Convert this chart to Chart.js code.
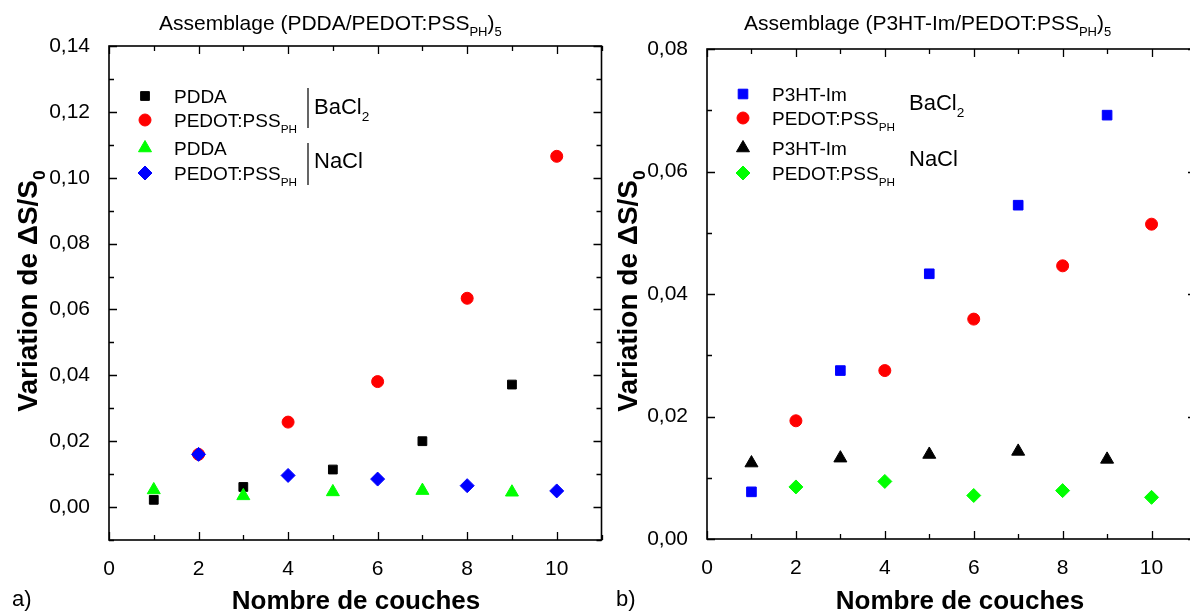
<!DOCTYPE html>
<html>
<head>
<meta charset="utf-8">
<script src="https://cdn.jsdelivr.net/npm/chart.js@4.4.0/dist/chart.umd.min.js"></script>
<style>
  html, body { margin: 0; padding: 0; background: #fff; overflow: hidden; width: 1190px; height: 612px; }
  #wrapA { position: absolute; left: 0; top: 0; width: 610px; height: 612px; }
  #wrapB { position: absolute; left: 610px; top: 0; width: 600px; height: 612px; }
</style>
</head>
<body>
<div id="wrapA"><canvas id="chartA" width="610" height="612"></canvas></div>
<div id="wrapB"><canvas id="chartB" width="600" height="612"></canvas></div>
<script>
// number of layers (odd = polycation, even = PEDOT:PSS)
let layersOdd = [1, 3, 5, 7, 9];
let layersEven = [2, 4, 6, 8, 10];
let xTicks = [0, 2, 4, 6, 8, 10];

// a) PDDA/PEDOT:PSS_PH
let pddaBaCl2 = [0.0022, 0.0061, 0.0114, 0.0200, 0.0372];
let pedotBaCl2A = [0.0160, 0.0258, 0.0381, 0.0634, 0.1065];
let pddaNaCl = [0.0052, 0.0034, 0.0046, 0.0050, 0.0045];
let pedotNaClA = [0.0160, 0.0096, 0.0085, 0.0065, 0.0049];
let yTicksA = [0, 0.02, 0.04, 0.06, 0.08, 0.10, 0.12, 0.14];

// b) P3HT-Im/PEDOT:PSS_PH
let p3htBaCl2 = [0.0077, 0.0275, 0.0433, 0.0545, 0.0692];
let pedotBaCl2B = [0.0193, 0.0275, 0.0359, 0.0446, 0.0514];
let p3htNaCl = [0.0124, 0.0132, 0.0138, 0.0143, 0.0130];
let pedotNaClB = [0.0085, 0.0094, 0.0071, 0.0079, 0.0068];
let yTicksB = [0, 0.02, 0.04, 0.06, 0.08];

const FONT = '"Liberation Sans", Arial, sans-serif';

function pts(xs, ys) {
    return xs.map((x, i) => ({ x: x, y: ys[i] }));
}

// text with subscripts: parts = [[text, isSub], ...]
function richText(ctx, parts, x, y, size, bold, align) {
    let font = s => (bold ? 'bold ' : '') + s + 'px ' + FONT;
    let w = 0;
    parts.forEach(p => {
        ctx.font = font(p[1] ? size * 0.62 : size);
        w += ctx.measureText(p[0]).width;
    });
    let cx = align === 'center' ? x - w / 2 : x;
    ctx.textAlign = 'left';
    ctx.textBaseline = 'alphabetic';
    parts.forEach(p => {
        ctx.font = font(p[1] ? size * 0.62 : size);
        ctx.fillText(p[0], cx, y + (p[1] ? size * 0.3 : 0));
        cx += ctx.measureText(p[0]).width;
    });
}

// box around plot + inward ticks on all four sides
let framePlugin = {
    id: 'frame',
    afterDraw(chart) {
        let ctx = chart.ctx, a = chart.chartArea;
        let sx = chart.scales.x, sy = chart.scales.y;
        ctx.save();
        ctx.strokeStyle = '#000';
        ctx.lineWidth = 1.6;
        ctx.strokeRect(a.left, a.top, a.right - a.left, a.bottom - a.top);
        ctx.lineWidth = 1.3;
        ctx.beginPath();
        let nx = Math.round(sx.max - sx.min);
        for (let i = 0; i <= nx; i++) {
            let v = sx.min + i;
            let len = v % 2 === 0 ? 8 : 5;
            let px = Math.round(sx.getPixelForValue(v)) + 0.5;
            ctx.moveTo(px, a.bottom); ctx.lineTo(px, a.bottom - len);
            ctx.moveTo(px, a.top); ctx.lineTo(px, a.top + len);
        }
        let ny = Math.round((sy.max - sy.min) / 0.01);
        for (let i = 0; i <= ny; i++) {
            let v = sy.min + i * 0.01;
            let major = Math.round(v * 100) % 2 === 0;
            let len = major ? 8 : 5;
            let py = Math.round(sy.getPixelForValue(v)) + 0.5;
            ctx.moveTo(a.left, py); ctx.lineTo(a.left + len, py);
            ctx.moveTo(a.right, py); ctx.lineTo(a.right - len, py);
        }
        ctx.stroke();
        ctx.restore();
    }
};

// titles, axis labels, legend
function textPlugin(cfg) {
    return {
        id: 'panelText',
        afterDraw(chart) {
            let ctx = chart.ctx;
            ctx.save();
            ctx.fillStyle = '#000';
            richText(ctx, cfg.title, cfg.titleX, 30, 21, false, 'left');
            richText(ctx, [['Nombre de couches', false]], cfg.xTitleX, 609, 26, true, 'center');
            richText(ctx, [[cfg.letter, false]], cfg.letterX, 606, 22, false, 'left');

            ctx.save();
            ctx.translate(cfg.yTitleX, 291);
            ctx.rotate(-Math.PI / 2);
            richText(ctx, [['Variation de \u0394S/S', false], ['0', true]], 0, 0, 28, true, 'center');
            ctx.restore();

            // legend markers come from the datasets themselves
            chart.data.datasets.forEach((ds, i) => {
                let y = cfg.legendY[i];
                ctx.fillStyle = ds.backgroundColor;
                ctx.strokeStyle = ds.borderColor;
                ctx.lineWidth = 1;
                Chart.helpers.drawPoint(ctx, { pointStyle: ds.pointStyle, radius: ds.pointRadius, rotation: 0, borderWidth: 1 }, cfg.legendX, y);
                ctx.fillStyle = '#000';
                richText(ctx, cfg.legendText[i], cfg.legendX + 29, y + 7, 19, false, 'left');
            });
            richText(ctx, [['BaCl', false], ['2', true]], cfg.saltX, cfg.saltY[0], 22, false, 'left');
            richText(ctx, [['NaCl', false]], cfg.saltX, cfg.saltY[1], 22, false, 'left');
            if (cfg.bars) {
                ctx.strokeStyle = '#000';
                ctx.lineWidth = 1.2;
                ctx.beginPath();
                cfg.bars.forEach(b => { ctx.moveTo(b[0], b[1]); ctx.lineTo(b[0], b[2]); });
                ctx.stroke();
            }
            ctx.restore();
        }
    };
}

function makeScatter(id, datasets, yMin, yMax, yTicks, layout, text) {
    let ctx = document.getElementById(id).getContext('2d');
    return new Chart(ctx, {
        type: 'scatter',
        data: { datasets: datasets },
        options: {
            responsive: false,
            animation: false,
            devicePixelRatio: 1,
            layout: { padding: { top: layout.top, right: layout.right, left: 0, bottom: 0 } },
            plugins: { legend: { display: false }, tooltip: { enabled: false } },
            scales: {
                x: {
                    type: 'linear', min: 0, max: 11,
                    afterBuildTicks: s => { s.ticks = xTicks.map(v => ({ value: v })); },
                    afterFit: s => { s.height = layout.xh; },
                    grid: { display: false },
                    border: { display: false },
                    ticks: { color: '#000', padding: 9, font: { family: FONT, size: 21 } }
                },
                y: {
                    type: 'linear', min: yMin, max: yMax,
                    afterBuildTicks: s => { s.ticks = yTicks.map(v => ({ value: v })); },
                    afterFit: s => { s.width = layout.yw; },
                    grid: { display: false },
                    border: { display: false },
                    ticks: {
                        color: '#000', padding: 11, font: { family: FONT, size: 21 },
                        callback: v => v.toFixed(2).replace('.', ',')
                    }
                }
            }
        },
        plugins: [framePlugin, textPlugin(text)]
    });
}

let pss = [['PEDOT:PSS', false], ['PH', true]];

// order: later series drawn on top (lower order value = on top)
makeScatter('chartA', [
    { label: 'PDDA BaCl2', data: pts(layersOdd, pddaBaCl2), order: 4, pointStyle: 'rect', pointRadius: 6.2, backgroundColor: '#000000', borderColor: '#000000', borderWidth: 1 },
    { label: 'PEDOT:PSS BaCl2', data: pts(layersEven, pedotBaCl2A), order: 3, pointStyle: 'circle', pointRadius: 6, backgroundColor: '#ff0000', borderColor: '#ff0000', borderWidth: 1 },
    { label: 'PDDA NaCl', data: pts(layersOdd, pddaNaCl), order: 2, pointStyle: 'triangle', pointRadius: 7.5, backgroundColor: '#00ff00', borderColor: '#00ff00', borderWidth: 1 },
    { label: 'PEDOT:PSS NaCl', data: pts(layersEven, pedotNaClA), order: 1, pointStyle: 'rectRot', pointRadius: 7, backgroundColor: '#0000ff', borderColor: '#0000ff', borderWidth: 1 }
], -0.01, 0.14, yTicksA, { top: 46, right: 8, xh: 72, yw: 109 }, {
    title: [['Assemblage (PDDA/PEDOT:PSS', false], ['PH', true], [')', false], ['5', true]],
    titleX: 159, xTitleX: 356, letter: 'a)', letterX: 12, yTitleX: 37,
    legendX: 145, legendY: [96, 120, 148, 173],
    legendText: [[['PDDA', false]], pss, [['PDDA', false]], pss],
    saltX: 314, saltY: [114, 168],
    bars: [[308, 88, 128], [308, 143, 185]]
});

makeScatter('chartB', [
    { label: 'P3HT-Im BaCl2', data: pts(layersOdd, p3htBaCl2), order: 4, pointStyle: 'rect', pointRadius: 6.8, backgroundColor: '#0000ff', borderColor: '#0000ff', borderWidth: 1 },
    { label: 'PEDOT:PSS BaCl2', data: pts(layersEven, pedotBaCl2B), order: 3, pointStyle: 'circle', pointRadius: 6, backgroundColor: '#ff0000', borderColor: '#ff0000', borderWidth: 1 },
    { label: 'P3HT-Im NaCl', data: pts(layersOdd, p3htNaCl), order: 2, pointStyle: 'triangle', pointRadius: 7.5, backgroundColor: '#000000', borderColor: '#000000', borderWidth: 1 },
    { label: 'PEDOT:PSS NaCl', data: pts(layersEven, pedotNaClB), order: 1, pointStyle: 'rectRot', pointRadius: 7, backgroundColor: '#00ff00', borderColor: '#00ff00', borderWidth: 1 }
], 0, 0.08, yTicksB, { top: 49, right: 14, xh: 73, yw: 97 }, {
    title: [['Assemblage (P3HT-Im/PEDOT:PSS', false], ['PH', true], [')', false], ['5', true]],
    titleX: 134, xTitleX: 350, letter: 'b)', letterX: 6, yTitleX: 27,
    legendX: 133, legendY: [94, 118, 148, 173],
    legendText: [[['P3HT-Im', false]], pss, [['P3HT-Im', false]], pss],
    saltX: 299, saltY: [110, 166],
    bars: null
});
</script>
</body>
</html>
